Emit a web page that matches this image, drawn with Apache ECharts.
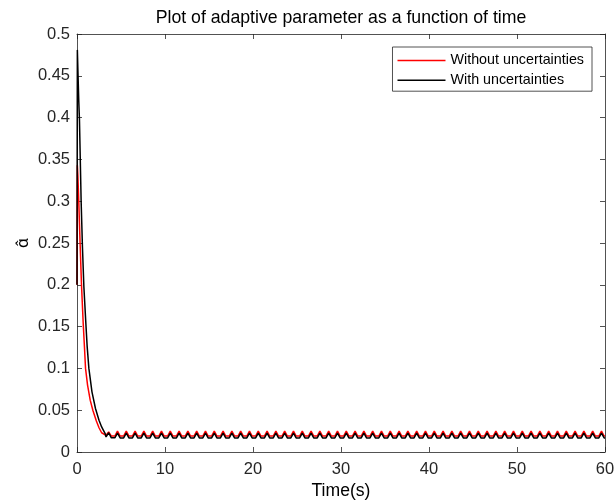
<!DOCTYPE html>
<html>
<head>
<meta charset="utf-8">
<script src="https://cdn.jsdelivr.net/npm/echarts@6/dist/echarts.min.js"></script>
<style>
  html, body { margin: 0; padding: 0; background: #fff; }
  #chart { width: 616px; height: 503px; }
</style>
</head>
<body>
<div id="chart"></div>
<script>
// ---- Data ----
const titleText = 'Plot of adaptive parameter as a function of time';
const xName = 'Time(s)';
const yName = 'α\u0302';
const seriesNames = ['Without uncertainties', 'With uncertainties'];

// initial transients
const redTransTime   = [0, 0.04, 0.1, 0.2, 0.35, 0.51, 0.7, 0.85, 0.97, 1.2, 1.5, 1.8, 2.2, 2.5, 2.8, 3.0];
const redTransValue  = [0.2, 0.343, 0.33, 0.3, 0.25, 0.2, 0.155, 0.125, 0.1, 0.08, 0.062, 0.05, 0.037, 0.029, 0.023, 0.021];
const blackTransTime  = [0, 0.04, 0.12, 0.2, 0.28, 0.47, 0.62, 0.78, 1.0, 1.15, 1.35, 1.7, 2.1, 2.5, 2.8, 3.05, 3.2];
const blackTransValue = [0.2, 0.481, 0.45, 0.42, 0.397, 0.3, 0.245, 0.198, 0.155, 0.127, 0.1, 0.072, 0.052, 0.038, 0.03, 0.025, 0.022];

// steady-state oscillation (period ~1 s)
const oscTime = [
  3.3,3.6,3.9, 4.3,4.6,4.9, 5.3,5.6,5.9, 6.3,6.6,6.9, 7.3,7.6,7.9, 8.3,8.6,8.9, 9.3,9.6,9.9,
  10.3,10.6,10.9, 11.3,11.6,11.9, 12.3,12.6,12.9, 13.3,13.6,13.9, 14.3,14.6,14.9, 15.3,15.6,15.9, 16.3,16.6,16.9, 17.3,17.6,17.9, 18.3,18.6,18.9, 19.3,19.6,19.9,
  20.3,20.6,20.9, 21.3,21.6,21.9, 22.3,22.6,22.9, 23.3,23.6,23.9, 24.3,24.6,24.9, 25.3,25.6,25.9, 26.3,26.6,26.9, 27.3,27.6,27.9, 28.3,28.6,28.9, 29.3,29.6,29.9,
  30.3,30.6,30.9, 31.3,31.6,31.9, 32.3,32.6,32.9, 33.3,33.6,33.9, 34.3,34.6,34.9, 35.3,35.6,35.9, 36.3,36.6,36.9, 37.3,37.6,37.9, 38.3,38.6,38.9, 39.3,39.6,39.9,
  40.3,40.6,40.9, 41.3,41.6,41.9, 42.3,42.6,42.9, 43.3,43.6,43.9, 44.3,44.6,44.9, 45.3,45.6,45.9, 46.3,46.6,46.9, 47.3,47.6,47.9, 48.3,48.6,48.9, 49.3,49.6,49.9,
  50.3,50.6,50.9, 51.3,51.6,51.9, 52.3,52.6,52.9, 53.3,53.6,53.9, 54.3,54.6,54.9, 55.3,55.6,55.9, 56.3,56.6,56.9, 57.3,57.6,57.9, 58.3,58.6,58.9, 59.3,59.6,59.9,
  60
];
const redOsc = [
  0.020,0.024,0.019, 0.019,0.025,0.019, 0.019,0.025,0.019, 0.019,0.025,0.019, 0.019,0.025,0.019, 0.019,0.025,0.019, 0.019,0.025,0.019,
  0.019,0.025,0.019, 0.019,0.025,0.019, 0.019,0.025,0.019, 0.019,0.025,0.019, 0.019,0.025,0.019, 0.019,0.025,0.019, 0.019,0.025,0.019, 0.019,0.025,0.019, 0.019,0.025,0.019, 0.019,0.025,0.019,
  0.019,0.025,0.019, 0.019,0.025,0.019, 0.019,0.025,0.019, 0.019,0.025,0.019, 0.019,0.025,0.019, 0.019,0.025,0.019, 0.019,0.025,0.019, 0.019,0.025,0.019, 0.019,0.025,0.019, 0.019,0.025,0.019,
  0.019,0.025,0.019, 0.019,0.025,0.019, 0.019,0.025,0.019, 0.019,0.025,0.019, 0.019,0.025,0.019, 0.019,0.025,0.019, 0.019,0.025,0.019, 0.019,0.025,0.019, 0.019,0.025,0.019, 0.019,0.025,0.019,
  0.019,0.025,0.019, 0.019,0.025,0.019, 0.019,0.025,0.019, 0.019,0.025,0.019, 0.019,0.025,0.019, 0.019,0.025,0.019, 0.019,0.025,0.019, 0.019,0.025,0.019, 0.019,0.025,0.019, 0.019,0.025,0.019,
  0.019,0.025,0.019, 0.019,0.025,0.019, 0.019,0.025,0.019, 0.019,0.025,0.019, 0.019,0.025,0.019, 0.019,0.025,0.019, 0.019,0.025,0.019, 0.019,0.025,0.019, 0.019,0.025,0.019, 0.019,0.025,0.019,
  0.019
];
const blackOsc = [
  0.018,0.023,0.017, 0.017,0.0226,0.0168, 0.0168,0.0226,0.0168, 0.0168,0.0226,0.0168, 0.0168,0.0226,0.0168, 0.0168,0.0226,0.0168, 0.0168,0.0226,0.0168,
  0.0168,0.0226,0.0168, 0.0168,0.0226,0.0168, 0.0168,0.0226,0.0168, 0.0168,0.0226,0.0168, 0.0168,0.0226,0.0168, 0.0168,0.0226,0.0168, 0.0168,0.0226,0.0168, 0.0168,0.0226,0.0168, 0.0168,0.0226,0.0168, 0.0168,0.0226,0.0168,
  0.0168,0.0226,0.0168, 0.0168,0.0226,0.0168, 0.0168,0.0226,0.0168, 0.0168,0.0226,0.0168, 0.0168,0.0226,0.0168, 0.0168,0.0226,0.0168, 0.0168,0.0226,0.0168, 0.0168,0.0226,0.0168, 0.0168,0.0226,0.0168, 0.0168,0.0226,0.0168,
  0.0168,0.0226,0.0168, 0.0168,0.0226,0.0168, 0.0168,0.0226,0.0168, 0.0168,0.0226,0.0168, 0.0168,0.0226,0.0168, 0.0168,0.0226,0.0168, 0.0168,0.0226,0.0168, 0.0168,0.0226,0.0168, 0.0168,0.0226,0.0168, 0.0168,0.0226,0.0168,
  0.0168,0.0226,0.0168, 0.0168,0.0226,0.0168, 0.0168,0.0226,0.0168, 0.0168,0.0226,0.0168, 0.0168,0.0226,0.0168, 0.0168,0.0226,0.0168, 0.0168,0.0226,0.0168, 0.0168,0.0226,0.0168, 0.0168,0.0226,0.0168, 0.0168,0.0226,0.0168,
  0.0168,0.0226,0.0168, 0.0168,0.0226,0.0168, 0.0168,0.0226,0.0168, 0.0168,0.0226,0.0168, 0.0168,0.0226,0.0168, 0.0168,0.0226,0.0168, 0.0168,0.0226,0.0168, 0.0168,0.0226,0.0168, 0.0168,0.0226,0.0168, 0.0168,0.0226,0.0168,
  0.0168
];

// ---- Build ----
function pairs(ts, vs) { return ts.map((t, i) => [t, vs[i]]); }
const redData = pairs(redTransTime.concat(oscTime), redTransValue.concat(redOsc));
const blackData = pairs(blackTransTime.concat(oscTime), blackTransValue.concat(blackOsc));

const FONT = 'Liberation Sans, Arial, Helvetica, sans-serif';
const AX = '#262626';
const axisLine = { show: true, onZero: false, lineStyle: { color: AX, width: 0.8 } };
const axisTick = { show: true, inside: true, length: 5, lineStyle: { color: AX, width: 0.8 } };

const chart = echarts.init(document.getElementById('chart'), null, { renderer: 'canvas' });
chart.setOption({
  animation: false,
  backgroundColor: '#fff',
  title: {
    text: titleText,
    left: 341, top: 9, textAlign: 'center', padding: 0,
    textStyle: { fontFamily: FONT, fontSize: 17.7, fontWeight: 'normal', color: '#000' }
  },
  grid: { left: 77, right: 11, top: 34, bottom: 51, containLabel: false, outerBoundsMode: 'none' },
  legend: {
    orient: 'vertical', right: 24, top: 47,
    padding: [6.5, 8, 4, 5], itemGap: 5.7, itemWidth: 48, itemHeight: 1.6,
    icon: 'rect',
    borderColor: '#262626', borderWidth: 0.8, backgroundColor: '#fff',
    textStyle: { fontFamily: FONT, fontSize: 14.3, color: '#000' },
    data: seriesNames
  },
  xAxis: [
    {
      type: 'value', min: 0, max: 60, interval: 10, position: 'bottom',
      name: xName, nameLocation: 'middle', nameGap: 30, nameMoveOverlap: false,
      nameTextStyle: { fontFamily: FONT, fontSize: 17.6, color: '#000' },
      axisLine, axisTick, splitLine: { show: false },
      axisLabel: { fontFamily: FONT, fontSize: 16.5, color: AX, margin: 9 }
    },
    {
      type: 'value', min: 0, max: 60, interval: 10, position: 'top',
      axisLine, axisTick, splitLine: { show: false }, axisLabel: { show: false }
    }
  ],
  yAxis: [
    {
      type: 'value', min: 0, max: 0.5, interval: 0.05, position: 'left',
      name: yName, nameLocation: 'middle', nameGap: 46, nameRotate: 90, nameMoveOverlap: false,
      nameTextStyle: { fontFamily: 'Noto Sans, DejaVu Sans, sans-serif', fontSize: 16, color: '#000' },
      axisLine, axisTick, splitLine: { show: false },
      axisLabel: { fontFamily: FONT, fontSize: 16.5, color: AX, margin: 7 }
    },
    {
      type: 'value', min: 0, max: 0.5, interval: 0.05, position: 'right',
      axisLine, axisTick, splitLine: { show: false }, axisLabel: { show: false }
    }
  ],
  series: [
    {
      name: seriesNames[0], type: 'line', data: redData, xAxisIndex: 0, yAxisIndex: 0,
      symbol: 'none', lineStyle: { color: '#ff0000', width: 1.5 }, itemStyle: { color: '#ff0000' }
    },
    {
      name: seriesNames[1], type: 'line', data: blackData, xAxisIndex: 0, yAxisIndex: 0,
      symbol: 'none', lineStyle: { color: '#000000', width: 1.5 }, itemStyle: { color: '#000000' }
    }
  ]
});
</script>
</body>
</html>
